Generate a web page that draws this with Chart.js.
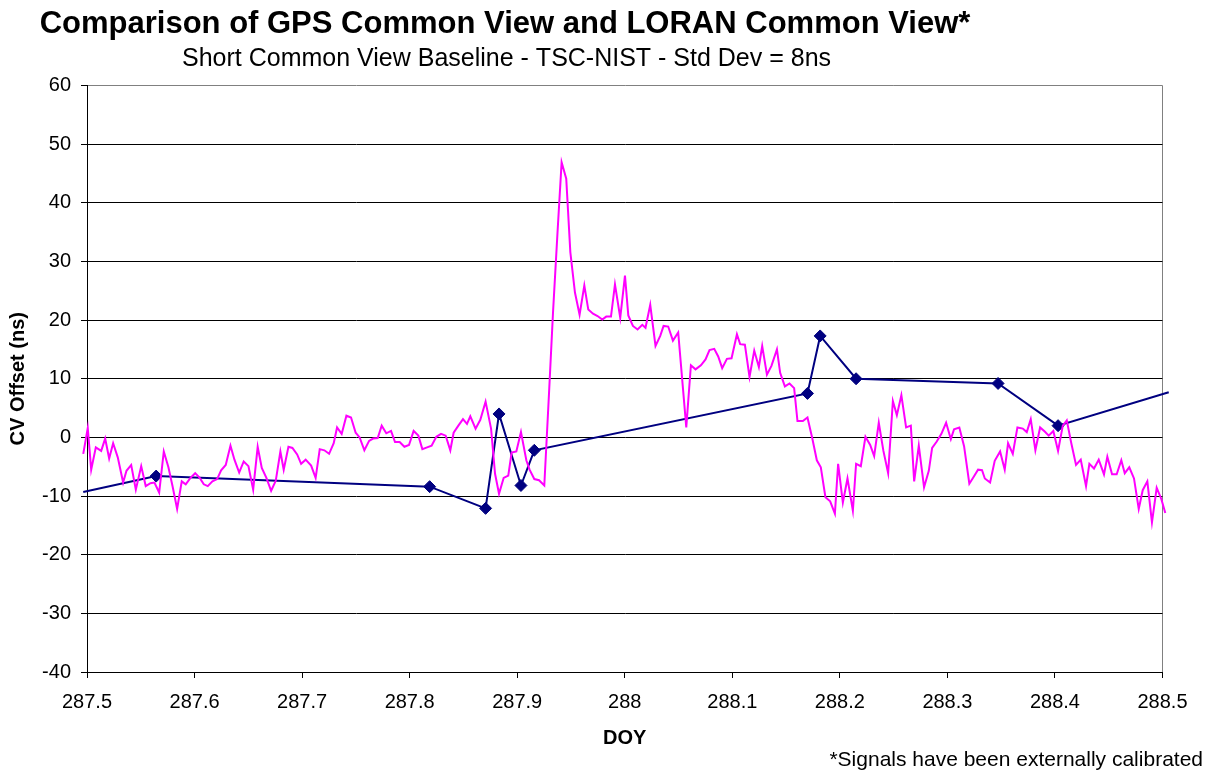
<!DOCTYPE html>
<html>
<head>
<meta charset="utf-8">
<script src="https://cdn.jsdelivr.net/npm/chart.js@4.4.1/dist/chart.umd.min.js"></script>
<style>
  html, body { margin: 0; padding: 0; background: #fff; }
  #wrap { width: 1207px; height: 770px; position: relative; }
</style>
</head>
<body>
<div id="wrap"><canvas id="cv" width="1207" height="770"></canvas></div>
<script>
/* GPS CV vs LORAN CV */

// LORAN common view (linha magenta): DOY e offset em ns
const loranDoy = [
  287.4965, 287.5007, 287.5039, 287.5082, 287.5132, 287.5169, 287.5206, 287.5243, 287.5286, 287.5336,
  287.5367, 287.5411, 287.5454, 287.5504, 287.5546, 287.5590, 287.5627, 287.5671, 287.5714, 287.5757,
  287.5795, 287.5838, 287.5881, 287.5918, 287.5962, 287.6006, 287.6048, 287.6086, 287.6123, 287.6166,
  287.6210, 287.6247, 287.6290, 287.6334, 287.6371, 287.6415, 287.6457, 287.6501, 287.6545, 287.6587,
  287.6625, 287.6668, 287.6712, 287.6755,
  287.6798, 287.6829, 287.6873, 287.6910, 287.6954, 287.6991, 287.7033, 287.7084, 287.7126, 287.7164,
  287.7207, 287.7251, 287.7294, 287.7325, 287.7368, 287.7412, 287.7455, 287.7498, 287.7535, 287.7579,
  287.7623, 287.7660, 287.7703, 287.7740, 287.7783, 287.7827, 287.7864, 287.7907, 287.7951, 287.7994,
  287.8037, 287.8081, 287.8118, 287.8162, 287.8204, 287.8248, 287.8292, 287.8335, 287.8378, 287.8409,
  287.8453, 287.8496, 287.8533, 287.8564,
  287.8613, 287.8657, 287.8706, 287.8757, 287.8794, 287.8831, 287.8874, 287.8917, 287.8948, 287.8992,
  287.9035, 287.9085, 287.9115, 287.9159, 287.9203, 287.9252, 287.9296, 287.9333, 287.9375, 287.9413,
  287.9456, 287.9494, 287.9537, 287.9580, 287.9624, 287.9661, 287.9705, 287.9747, 287.9791, 287.9828,
  287.9872, 287.9909, 287.9958, 288.0002, 288.0033, 288.0076, 288.0119, 288.0163, 288.0193, 288.0237,
  288.0286, 288.0330,
  288.0361, 288.0404, 288.0448, 288.0497, 288.0572, 288.0615, 288.0658, 288.0708, 288.0751, 288.0788,
  288.0832, 288.0869, 288.0906, 288.0950, 288.0993, 288.1043, 288.1073, 288.1117, 288.1160, 288.1204,
  288.1247, 288.1278, 288.1322, 288.1364, 288.1415, 288.1445, 288.1489, 288.1532, 288.1575, 288.1606,
  288.1656,
  288.1699, 288.1743, 288.1786, 288.1823, 288.1866, 288.1910, 288.1954, 288.1984, 288.2028, 288.2071,
  288.2121, 288.2151, 288.2195, 288.2238, 288.2282, 288.2319, 288.2362, 288.2405, 288.2449, 288.2493,
  288.2530, 288.2572, 288.2616, 288.2660, 288.2691, 288.2734, 288.2783, 288.2827, 288.2858, 288.2901,
  288.2944, 288.2988, 288.3032, 288.3062, 288.3111, 288.3155, 288.3204, 288.3242, 288.3285, 288.3322,
  288.3348, 288.3397, 288.3440, 288.3490, 288.3533, 288.3564, 288.3608, 288.3651, 288.3701, 288.3738,
  288.3775, 288.3818, 288.3862, 288.3905, 288.3942, 288.3985, 288.4029, 288.4073, 288.4110, 288.4152,
  288.4196, 288.4240, 288.4289, 288.4320, 288.4363, 288.4407, 288.4456, 288.4487, 288.4531, 288.4574,
  288.4617, 288.4649, 288.4691, 288.4735, 288.4779, 288.4816, 288.4859, 288.4902, 288.4946, 288.4989,
  288.5026, 288.5058
];
const loranNs = [
  -2.8, 1.6, -5.5, -1.7, -2.3, -0.2, -3.6, -1.0, -3.4, -7.7,
  -5.7, -4.7, -8.9, -4.9, -8.3, -7.8, -7.7, -9.4, -2.4, -5.1,
  -8.3, -12.2, -7.5, -8.0, -6.9, -6.1, -6.9, -8.0, -8.3, -7.5,
  -7.1, -5.6, -4.7, -1.4, -3.8, -6.0, -4.1, -4.9, -8.9, -1.6,
  -5.2, -6.9, -9.1, -7.4,
  -2.4, -5.5, -1.6, -1.8, -2.9, -4.5, -3.8, -4.8, -6.9, -2.0,
  -2.2, -2.8, -1.0, 1.7, 0.6, 3.7, 3.4, 0.8, 0.0, -2.2,
  -0.6, -0.2, -0.1, 2.0, 0.7, 1.1, -0.8, -0.8, -1.6, -1.3,
  1.1, 0.3, -2.0, -1.7, -1.4, 0.1, 0.6, 0.3, -2.2, 0.8,
  2.0, 3.1, 2.3, 3.6,
  1.5, 3.0, 6.1, 1.5, -6.2, -9.6, -6.9, -6.5, -2.6, -2.4,
  0.9, -3.9, -5.5, -7.1, -7.3, -8.2, 7.6, 21.3, 35.0, 46.9,
  44.1, 31.6, 24.7, 20.9, 25.9, 21.8, 21.1, 20.7, 20.1, 20.6,
  20.6, 26.1, 20.4, 27.6, 20.8, 19.0, 18.4, 19.2, 18.7, 22.6,
  15.6, 17.3,
  19.0, 18.9, 16.5, 17.9, 1.7, 12.3, 11.6, 12.3, 13.3, 14.9,
  15.1, 13.8, 11.8, 13.4, 13.5, 17.6, 15.9, 15.8, 10.3, 14.8,
  12.0, 15.6, 10.7, 12.2, 15.0, 11.0, 8.7, 9.2, 8.4, 2.8,
  2.8,
  3.4, -0.1, -3.9, -5.1, -10.2, -10.9, -13.0, -4.5, -11.1, -7.0,
  -12.5, -4.5, -4.9, 0.1, -1.3, -3.2, 2.5, -2.3, -6.1, 6.2,
  3.8, 7.2, 1.7, 2.0, -7.5, -1.4, -8.5, -5.7, -1.8, -0.7,
  0.6, 2.5, -0.3, 1.4, 1.7, -1.5, -7.9, -6.8, -5.5, -5.6,
  -7.0, -7.7, -4.0, -2.4, -5.5, -1.0, -2.8, 1.7, 1.5, 0.9,
  3.1, -2.2, 1.7, 1.0, 0.3, 1.1, -2.3, 2.0, 2.9, -1.0,
  -4.7, -3.8, -8.3, -4.5, -5.3, -3.8, -6.3, -3.3, -6.3, -6.3,
  -3.9, -6.1, -5.1, -7.0, -12.2, -9.0, -7.5, -14.5, -8.6, -10.5,
  -12.9, -13.0
];

// GPS common view (linha azul-marinho com losangos); pontos extremos ficam fora do eixo
const gpsDoy = [287.4965, 287.5643, 287.8186, 287.8706, 287.8831, 287.9035, 287.9159,
                288.1699, 288.1817, 288.2151, 288.3471, 288.4029, 288.5058];
const gpsNs  = [-9.3, -6.6, -8.4, -12.1, 4.0, -8.2, -2.2,
                7.5, 17.3, 10.0, 9.2, 2.0, 7.7];

// ticks
const xTickValues = [287.5, 287.6, 287.7, 287.8, 287.9, 288.0, 288.1, 288.2, 288.3, 288.4, 288.5];
const xTickLabels = ["287.5", "287.6", "287.7", "287.8", "287.9", "288", "288.1", "288.2", "288.3", "288.4", "288.5"];
const yTickValues = [-40, -30, -20, -10, 0, 10, 20, 30, 40, 50, 60];

const FONT = "'Liberation Sans', Arial, Helvetica, sans-serif";
const MAGENTA = "#FF00FF", NAVY = "#000080", GRID = "#000000", EDGE = "#808080";

function pts(xs, ys) { return xs.map((x, i) => ({ x, y: ys[i] })); }

// títulos e nota de rodapé desenhados à mão (posições do original)
const textPlugin = {
  id: "texts",
  afterDraw(chart) {
    const c = chart.ctx;
    c.save();
    c.fillStyle = "#000";
    c.textBaseline = "alphabetic";
    c.textAlign = "center";
    c.font = "bold 31px " + FONT;
    c.fillText("Comparison of GPS Common View and LORAN Common View*", 505, 33);
    c.textAlign = "left";
    c.font = "25px " + FONT;
    c.fillText("Short Common View Baseline - TSC-NIST - Std Dev = 8ns", 182, 66);
    c.textAlign = "right";
    c.font = "21px " + FONT;
    c.fillText("*Signals have been externally calibrated", 1203, 766);
    c.restore();
  }
};

new Chart(document.getElementById("cv").getContext("2d"), {
  type: "line",
  data: {
    datasets: [
      { label: "LORAN CV", data: pts(loranDoy, loranNs), borderColor: MAGENTA, backgroundColor: MAGENTA,
        borderWidth: 2, pointRadius: 0, tension: 0, clip: { left: 5, right: 7, top: 0, bottom: 0 } },
      { label: "GPS CV", data: pts(gpsDoy, gpsNs), borderColor: NAVY, backgroundColor: NAVY,
        borderWidth: 2, tension: 0, pointStyle: "rectRot", pointBorderWidth: 1,
        pointRadius: (ctx) => { const p = ctx.raw; return p && p.x >= 287.5 && p.x <= 288.5 ? 6 : 0; },
        clip: { left: 5, right: 7, top: 0, bottom: 0 } }
    ]
  },
  options: {
    responsive: false, animation: false, parsing: true,
    layout: { padding: { left: 0, top: 85.5, right: 44.5, bottom: 0 } },
    plugins: { legend: { display: false }, tooltip: { enabled: false }, title: { display: false } },
    scales: {
      x: {
        type: "linear", min: 287.5, max: 288.5,
        afterBuildTicks: (s) => { s.ticks = xTickValues.map((v) => ({ value: v })); },
        afterFit: (s) => { s.height = 98; },
        ticks: { color: "#000", font: { family: FONT, size: 20 }, padding: 12, maxRotation: 0,
                 autoSkip: false, callback: (v, i) => xTickLabels[i] },
        grid: { color: (c) => (c.tick && c.tick.value === 288.5 ? EDGE : "rgba(0,0,0,0)"),
                tickColor: GRID, tickLength: 6, lineWidth: 1 },
        border: { display: true, color: GRID, width: 1 },
        title: { display: true, text: "DOY", color: "#000", font: { family: FONT, size: 20, weight: "bold" },
                 padding: { top: 0, bottom: 20 } }
      },
      y: {
        type: "linear", min: -40, max: 60,
        afterBuildTicks: (s) => { s.ticks = yTickValues.map((v) => ({ value: v })); },
        afterFit: (s) => { s.width = 87; },
        ticks: { color: "#000", font: { family: FONT, size: 20 }, padding: 10, autoSkip: false },
        grid: { color: (c) => (c.tick && c.tick.value === 60 ? EDGE : GRID), tickColor: GRID, tickLength: 6, lineWidth: 1 },
        border: { display: true, color: GRID, width: 1 },
        title: { display: true, text: "CV Offset (ns)", color: "#000", font: { family: FONT, size: 20, weight: "bold" },
                 padding: { top: 6, bottom: 0 } }
      }
    }
  },
  plugins: [textPlugin]
});
</script>
</body>
</html>
